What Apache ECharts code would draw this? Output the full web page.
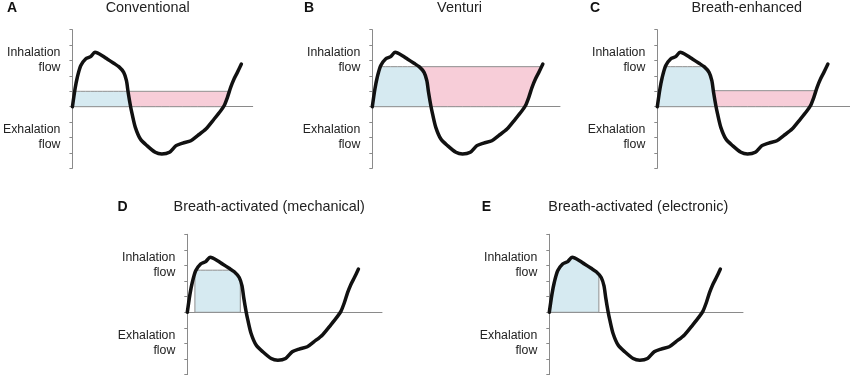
<!DOCTYPE html>
<html><head><meta charset="utf-8">
<script src="https://cdn.jsdelivr.net/npm/echarts@6/dist/echarts.min.js"></script>
<style>html,body{margin:0;padding:0;background:#fff}#c{width:850px;height:375px}</style>
</head><body><div id="c"></div>
<script>
// ---- data ----
const breathX = [0,0.17,0.32,0.54,0.86,1.19,1.47,1.62,1.95,2.27,2.70,3.03,3.35,3.53,3.64,3.79,3.90,4.11,4.44,4.87,5.41,5.84,6.34,6.77,7.21,7.74,8.18,8.72,9.26,9.69,9.91,10.13,10.34,10.56,10.78,11.04];
const breathY = [0,1.15,1.91,2.66,3.10,3.25,3.53,3.49,3.31,3.10,2.82,2.60,2.23,1.69,0.94,0.06,-0.47,-1.34,-2.10,-2.53,-2.96,-3.07,-2.96,-2.53,-2.36,-2.21,-1.88,-1.45,-0.80,-0.26,0.06,0.61,1.26,1.80,2.23,2.77];
const panelLetters = ['A','B','C','D','E'];
const panelTitles = ['Conventional','Venturi','Breath-enhanced','Breath-activated (mechanical)','Breath-activated (electronic)'];
const yTickLabels = {'3':'Inhalation\nflow','-2':'Exhalation\nflow'};
const yMin = -4, yMax = 5, yStep = 1;
const blueCap   = [1, 2.6, 2.6, 2.7, null];
const blueStart = [0, 0, 0, 0.49, 0];
const blueEnd   = [null, null, null, 3.42, 3.2];   // null = where the curve falls through zero
const pinkCap   = [1, 2.6, 1.04, null, null];

// ---- layout ----
const layout = [
  {left:70.7,  top:29.7,  w:182,   h:138.6, xmax:11.78, lx:12,    ly:8,   tx:147.7, ty:8},
  {left:372.3, top:29.7,  w:187.7, h:138.6, xmax:12.15, lx:309,   ly:8,   tx:459.5, ty:8},
  {left:657.3, top:29.7,  w:192.7, h:138.6, xmax:12.47, lx:595,   ly:8,   tx:746.7, ty:8},
  {left:187.3, top:234.3, w:194.7, h:140.4, xmax:12.56, lx:122.5, ly:207, tx:269.2, ty:207},
  {left:549.3, top:234.3, w:193.7, h:140.4, xmax:12.5,  lx:486.5, ly:207, tx:638.3, ty:207}
];

const curve = breathX.map((x,i)=>[x, breathY[i]]);
function curveAt(x){
  for (let i=0;i<curve.length-1;i++){
    const a=curve[i], b=curve[i+1];
    if (x>=a[0] && x<=b[0]) return a[1] + (b[1]-a[1])*(x-a[0])/(b[0]-a[0]);
  }
  return x<curve[0][0]?curve[0][1]:curve[curve.length-1][1];
}
function crosses(a,b,v){ return (a[1]>v)!==(b[1]>v) && a[1]!==b[1]; }
function crossX(a,b,v){ return a[0]+(v-a[1])*(b[0]-a[0])/(b[1]-a[1]); }
function crossings(v){
  const out=[];
  for (let i=0;i<curve.length-1;i++){
    const a=curve[i], b=curve[i+1];
    if (crosses(a,b,v)) out.push({x:crossX(a,b,v), dir: b[1]>a[1]?1:-1});
  }
  return out;
}
function clamped(lo, hi, x0, x1){
  const pts=[];
  const clamp=y=>Math.max(lo,Math.min(hi,y));
  pts.push([x0, clamp(curveAt(x0))]);
  for (let i=0;i<curve.length-1;i++){
    const a=curve[i], b=curve[i+1];
    [lo,hi].forEach(v=>{
      if (crosses(a,b,v)){
        const x=crossX(a,b,v);
        if (x>x0 && x<x1) pts.push([x, v]);
      }
    });
    if (b[0]>x0 && b[0]<x1) pts.push([b[0], clamp(b[1])]);
  }
  pts.push([x1, clamp(curveAt(x1))]);
  pts.sort((p,q)=>p[0]-q[0]);
  return pts;
}
const zeroDown = crossings(0).filter(c=>c.dir<0)[0].x;

const polyStroke = '#8f8f8f';
const blueFill = '#d6eaf1';
const pinkFill = '#f7cdd8';
const axisColor = '#8a8a8a';
const font = "'Liberation Sans', Arial, sans-serif";

const grids=[], xAxes=[], yAxes=[], series=[], graphics=[];
layout.forEach((L,i)=>{
  grids.push({left:L.left, top:L.top, width:L.w, height:L.h, containLabel:false});
  xAxes.push({type:'value', gridIndex:i, min:0, max:L.xmax,
    axisLine:{show:true, onZero:true, lineStyle:{color:axisColor, width:1}},
    axisTick:{show:false}, axisLabel:{show:false}, splitLine:{show:false}});
  yAxes.push({type:'value', gridIndex:i, min:yMin, max:yMax, interval:yStep,
    axisLine:{show:true, lineStyle:{color:axisColor, width:1}},
    axisTick:{show:true, length:3, inside:false, lineStyle:{color:axisColor}},
    splitLine:{show:false},
    axisLabel:{show:true, margin:12, color:'#222', fontSize:12.3, lineHeight:15, fontFamily:font,
      formatter:v=>yTickLabels[String(v)]||''}});
  const bx0 = blueStart[i], bx1 = blueEnd[i]==null ? zeroDown : blueEnd[i];
  const cap = blueCap[i]==null ? 100 : blueCap[i];
  const bluePoly = [[bx0,0]].concat(clamped(0, cap, bx0, bx1)).concat([[bx1,0]]);
  const polys = [{pts:bluePoly, fill:blueFill}];
  if (pinkCap[i]!=null){
    const pc = pinkCap[i];
    const cr = crossings(pc);
    const xc = cr.filter(c=>c.dir<0)[0].x;
    const up = cr.filter(c=>c.dir>0);
    const xd = up[up.length-1].x;
    const pinkPoly = clamped(0, pc, xc, xd).concat([[xd,pc],[xc,pc]]);
    polys.push({pts:pinkPoly, fill:pinkFill});
  }
  polys.forEach(p=>{
    series.push({type:'custom', xAxisIndex:i, yAxisIndex:i, data:[[0,0]], z:1, clip:false, silent:true,
      renderItem:(params, api)=>({type:'polygon', shape:{points:p.pts.map(q=>api.coord(q))},
        style:{fill:p.fill, stroke:polyStroke, lineWidth:1}})});
  });
  series.push({type:'line', xAxisIndex:i, yAxisIndex:i, data:curve, showSymbol:false, smooth:0.25, z:5,
    lineStyle:{color:'#111', width:3.5, cap:'round', join:'round'}});
  graphics.push({type:'text', x:L.lx, y:L.ly, style:{text:panelLetters[i], font:"bold 14px "+font, fill:'#111', align:'center', verticalAlign:'middle'}});
  graphics.push({type:'text', x:L.tx, y:L.ty, style:{text:panelTitles[i], font:"14.4px "+font, fill:'#222', align:'center', verticalAlign:'middle'}});
});

const chart = echarts.init(document.getElementById('c'), null, {renderer:'canvas'});
chart.setOption({animation:false, backgroundColor:'#fff', grid:grids, xAxis:xAxes, yAxis:yAxes, series:series, graphic:graphics});
</script></body></html>
